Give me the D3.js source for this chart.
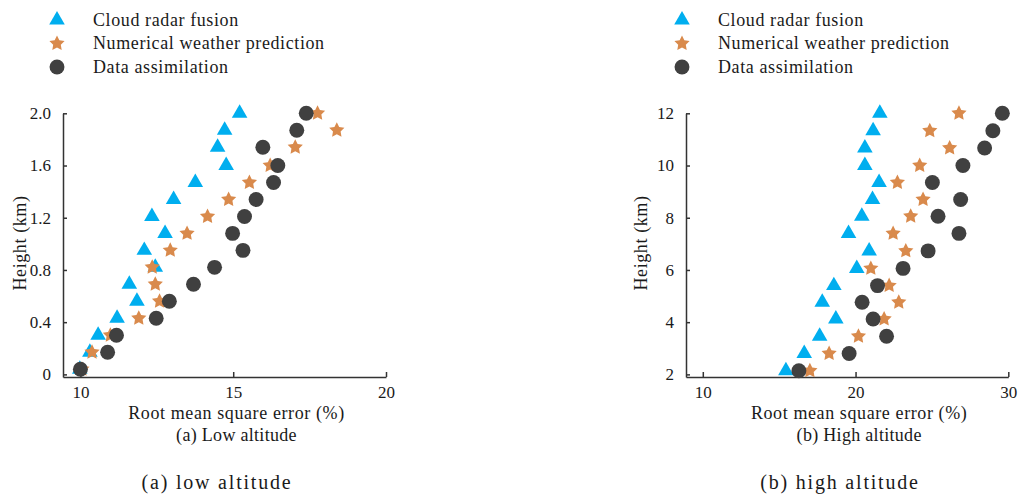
<!DOCTYPE html>
<html><head><meta charset="utf-8">
<script src="https://cdn.jsdelivr.net/npm/d3@7"></script>
<style>
html,body{margin:0;padding:0;background:#fff;}
svg{display:block;}
text{font-family:"Liberation Serif","Times New Roman",serif;fill:#1a1a1a;}
</style></head><body>
<svg id="chart" width="1022" height="498"></svg>
<script>
// ---------- data ----------
const seriesNames = ["Cloud radar fusion", "Numerical weather prediction", "Data assimilation"];

// (a) low altitude, heights in km (bottom to top)
const lowHeights = [0.04, 0.17, 0.30, 0.43, 0.56, 0.69, 0.82, 0.95, 1.08, 1.21, 1.34, 1.47, 1.60, 1.74, 1.87, 2.00];
const lowRadar   = [9.98, 10.31, 10.58, 11.20, 11.85, 11.60, 12.45, 12.09, 12.77, 12.34, 13.05, 13.76, 14.77, 14.49, 14.72, 15.21];
const lowNwp     = [10.05, 10.38, 10.98, 11.91, 12.59, 12.45, 12.35, 12.94, 13.49, 14.16, 14.85, 15.53, 16.21, 17.03, 18.39, 17.76];
const lowDa      = [10.00, 10.89, 11.18, 12.48, 12.91, 13.70, 14.39, 15.32, 14.98, 15.37, 15.75, 16.32, 16.46, 15.97, 17.08, 17.39];
const lowXTicks = [10, 15, 20];
const lowYTicks = [0, 0.4, 0.8, 1.2, 1.6, 2.0];
const lowYTickLabels = ["0", "0.4", "0.8", "1.2", "1.6", "2.0"];

// (b) high altitude
const highHeights = [2.14, 2.80, 3.46, 4.12, 4.76, 5.40, 6.06, 6.73, 7.40, 8.06, 8.70, 9.35, 10.00, 10.67, 11.33, 12.00];
const highRadar   = [15.44, 16.64, 17.65, 18.71, 17.82, 18.58, 20.08, 20.89, 19.54, 20.41, 21.11, 21.54, 20.61, 20.61, 21.15, 21.59];
const highNwp     = [17.01, 18.27, 20.19, 21.87, 22.83, 22.20, 21.00, 23.29, 22.46, 23.61, 24.42, 22.74, 24.20, 26.16, 24.86, 26.77];
const highDa      = [16.29, 19.58, 22.03, 21.15, 20.43, 21.44, 23.11, 24.75, 26.77, 25.40, 26.88, 25.03, 27.03, 28.45, 28.99, 29.61];
const highXTicks = [10, 20, 30];
const highYTicks = [2, 4, 6, 8, 10, 12];
const highYTickLabels = ["2", "4", "6", "8", "10", "12"];

const xTitle = "Root mean square error (%)";
const yTitle = "Height (km)";
const subTitles = ["(a) Low altitude", "(b) High altitude"];
const captions = ["(a) low altitude", "(b) high altitude"];

// ---------- styles ----------
const colors = ["#00AEEF", "#D98A4C", "#404040"];
// chunkier five-point star (inner/outer radius ratio 0.5), size = outer radius squared
const fatStar = {
  draw(context, size) {
    const R = Math.sqrt(size), r = R * 0.5;
    for (let k = 0; k < 10; k++) {
      const a = -Math.PI / 2 + k * Math.PI / 5;
      const rr = k % 2 ? r : R;
      const px = rr * Math.cos(a), py = rr * Math.sin(a);
      if (k === 0) context.moveTo(px, py); else context.lineTo(px, py);
    }
    context.closePath();
  }
};
const shapes = [d3.symbolTriangle, fatStar, d3.symbolCircle];
const sizes = [105, 64, 175];

const svg = d3.select("#chart");

const panels = [
  { heights: lowHeights, series: [lowRadar, lowNwp, lowDa], xDomain: [9.43, 20], yDomain: [-0.02, 2.0],
    xRange: [63, 386], xTicks: lowXTicks, yTicks: lowYTicks, yLabels: lowYTickLabels,
    legendX: 57, yTitleX: 26, sub: subTitles[0], caption: captions[0], captionX: 217 },
  { heights: highHeights, series: [highRadar, highNwp, highDa], xDomain: [8.9, 30], yDomain: [1.9, 12],
    xRange: [686, 1008.3], xTicks: highXTicks, yTicks: highYTicks, yLabels: highYTickLabels,
    legendX: 682, yTitleX: 647, sub: subTitles[1], caption: captions[1], captionX: 840 }
];
const yRange = [377, 113.3];

panels.forEach(p => {
  const x = d3.scaleLinear().domain(p.xDomain).range(p.xRange);
  const y = d3.scaleLinear().domain(p.yDomain).range(yRange);
  const g = svg.append("g");

  // axes
  const xAxis = d3.axisBottom(x).tickValues(p.xTicks).tickSizeInner(-5).tickSizeOuter(0).tickPadding(9)
    .tickFormat(d3.format("d"));
  const gx = g.append("g").attr("transform", `translate(0,${yRange[0]})`).call(xAxis);
  const yAxis = d3.axisLeft(y).tickValues(p.yTicks).tickSizeInner(-4).tickSizeOuter(0).tickPadding(12)
    .tickFormat((d, i) => p.yLabels[i]);
  const gy = g.append("g").attr("transform", `translate(${p.xRange[0]},0)`).call(yAxis);
  [gx, gy].forEach(a => {
    a.selectAll("path.domain").attr("stroke", "#333").attr("stroke-width", 1.5);
    a.selectAll(".tick line").attr("stroke", "#333").attr("stroke-width", 1.5);
    a.selectAll(".tick text").style("font-family", '"Liberation Serif", serif').style("font-size", "17px").attr("fill", "#1a1a1a");
  });

  // points: triangles, stars, circles
  p.series.forEach((vals, si) => {
    g.append("g").selectAll("path").data(vals).join("path")
      .attr("d", d3.symbol().type(shapes[si]).size(sizes[si]))
      .attr("transform", (v, i) => `translate(${x(v)},${y(p.heights[i])})`)
      .attr("fill", colors[si]);
  });

  // titles
  const cx = (p.xRange[0] + p.xRange[1]) / 2 + 12;
  g.append("text").attr("x", cx).attr("y", 419).attr("text-anchor", "middle")
    .style("font-size", "18px").style("letter-spacing", "0.6px").text(xTitle);
  g.append("text").attr("x", cx).attr("y", 441).attr("text-anchor", "middle")
    .style("font-size", "18px").style("letter-spacing", "0.3px").text(p.sub);
  g.append("text").attr("transform", `translate(${p.yTitleX},243) rotate(-90)`).attr("text-anchor", "middle")
    .style("font-size", "18px").style("letter-spacing", "0.6px").text(yTitle);
  g.append("text").attr("x", p.captionX).attr("y", 489).attr("text-anchor", "middle")
    .style("font-size", "20px").style("letter-spacing", "1.8px").text(p.caption);

  // legend
  const lg = g.append("g");
  seriesNames.forEach((name, si) => {
    const ly = 20 + si * 23.5;
    lg.append("path").attr("d", d3.symbol().type(shapes[si]).size(sizes[si]))
      .attr("transform", `translate(${p.legendX},${ly})`).attr("fill", colors[si]);
    lg.append("text").attr("x", p.legendX + 36).attr("y", ly + 5.5)
      .style("font-size", "18px").style("letter-spacing", "0.6px").text(name);
  });
});
</script>
</body></html>
